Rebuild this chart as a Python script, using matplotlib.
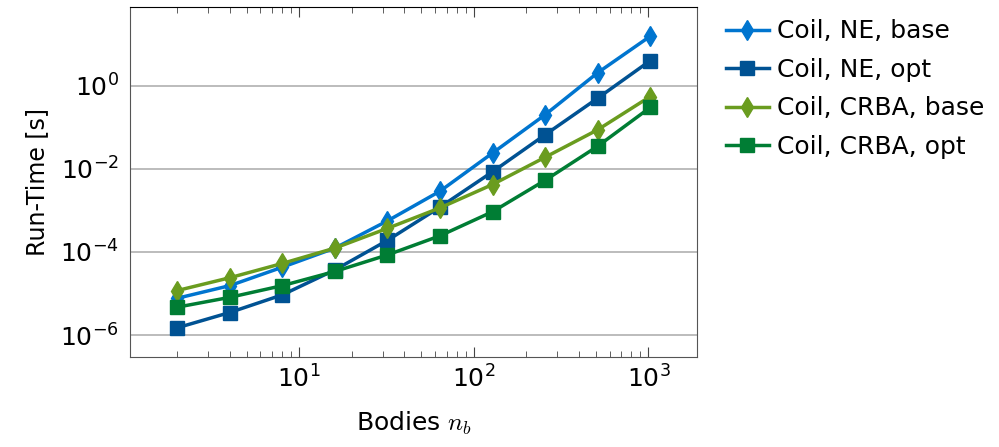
import matplotlib
matplotlib.use("Agg")
import matplotlib.pyplot as plt
from matplotlib.ticker import LogLocator, NullFormatter

# bodies (x) and run-times in seconds
bodies = [2, 4, 8, 16, 32, 64, 128, 256, 512, 1024]
ne_base = [7.7e-6, 1.55e-5, 4.3e-5, 1.24e-4, 5.6e-4, 2.9e-3, 2.4e-2, 0.20, 2.05, 15.5]
ne_opt = [1.5e-6, 3.5e-6, 9.3e-6, 3.7e-5, 1.9e-4, 1.2e-3, 8.5e-3, 0.066, 0.50, 4.0]
crba_base = [1.18e-5, 2.4e-5, 5.3e-5, 1.24e-4, 3.7e-4, 1.15e-3, 4.2e-3, 0.019, 0.087, 0.55]
crba_opt = [4.7e-6, 8.1e-6, 1.55e-5, 3.4e-5, 8.5e-5, 2.45e-4, 9.3e-4, 5.3e-3, 0.035, 0.30]

labels = ["Coil, NE, base", "Coil, NE, opt", "Coil, CRBA, base", "Coil, CRBA, opt"]

plt.rcParams['mathtext.fontset'] = 'cm'
plt.rcParams['font.family'] = ['DejaVu Sans']

fig = plt.figure(figsize=(9.99, 4.47), dpi=100)
ax = fig.add_axes([0.130, 0.201, 0.568, 0.783])

ax.plot(bodies, ne_base, color='#0075CF', lw=2.5, marker='d', ms=10, label=labels[0])
ax.plot(bodies, ne_opt, color='#005293', lw=2.5, marker='s', ms=10.5, label=labels[1])
ax.plot(bodies, crba_base, color='#6A9C1F', lw=2.5, marker='d', ms=10, label=labels[2])
ax.plot(bodies, crba_opt, color='#007D34', lw=2.5, marker='s', ms=10.5, label=labels[3])

ax.set_xscale('log')
ax.set_yscale('log')
ax.set_xlim(10**0.03, 10**3.28)
ax.set_ylim(10**-6.53, 10**1.89)

ax.set_yticks([1e-6, 1e-4, 1e-2, 1e0])
ax.yaxis.set_minor_locator(plt.NullLocator())
ax.xaxis.set_minor_locator(LogLocator(base=10, subs=range(2, 10)))
ax.xaxis.set_minor_formatter(NullFormatter())
ax.set_xticks([10, 100, 1000])

ax.grid(axis='y', color='#b0b0b0', lw=1.2)
ax.tick_params(axis='x', which='both', direction='in', top=True, labelsize=18, color='#444444', pad=6)
ax.tick_params(axis='x', which='major', length=7)
ax.tick_params(axis='x', which='minor', length=4)
ax.tick_params(axis='y', length=0, labelsize=18, pad=8)
for s in ax.spines.values():
    s.set_color('#555555')
ax.spines['top'].set_color('black')

ax.set_xlabel(r"Bodies $n_b$", fontsize=18, labelpad=12)
ax.set_ylabel("Run-Time [s]", fontsize=17, labelpad=8)

ax.legend(loc='upper left', bbox_to_anchor=(1.02, 1.015), frameon=False, fontsize=18,
          handlelength=1.7, handletextpad=0.35, labelspacing=0.58, borderaxespad=0.3)

fig.savefig("out.png", dpi=100)
